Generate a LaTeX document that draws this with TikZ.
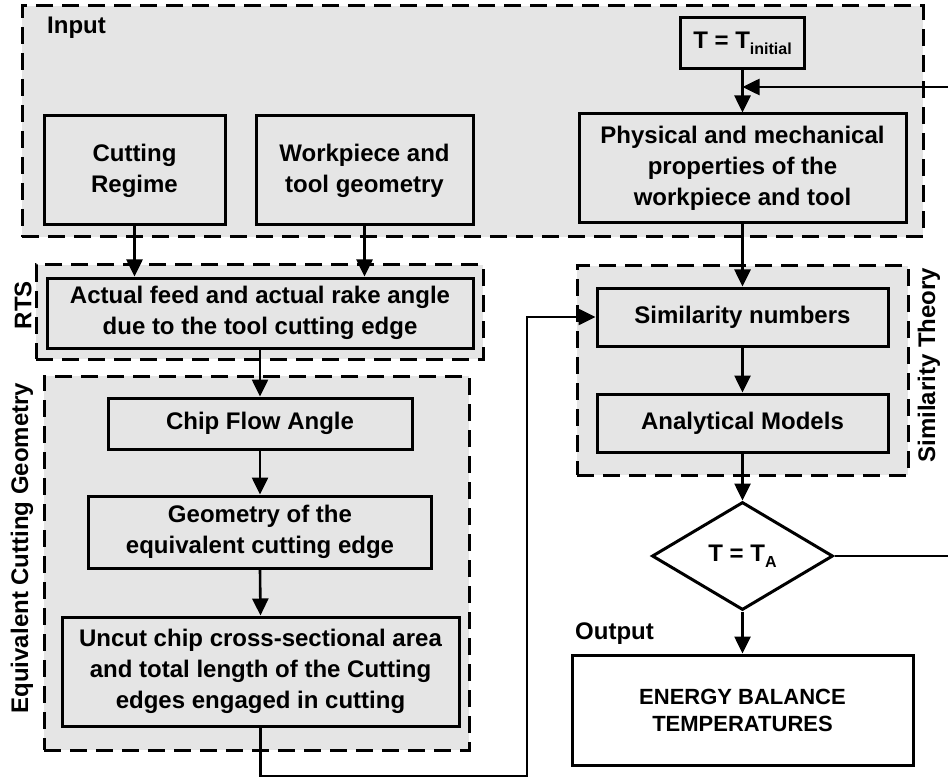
\documentclass[tikz,border=0pt]{standalone}
\usepackage{fontspec}
\setmainfont{Liberation Sans}
\usetikzlibrary{arrows.meta,shapes.geometric}
\definecolor{grpfill}{gray}{0.9}
\tikzset{
  grp/.style={draw, dash pattern=on 17pt off 9pt, line width=3pt, fill=grpfill, inner sep=0pt},
  boxn/.style={draw, line width=3pt, fill=grpfill, align=center, inner sep=0pt,
    font=\fontsize{24}{31}\selectfont\bfseries},
  wboxn/.style={boxn, fill=white},
  lbl/.style={inner sep=0pt, font=\fontsize{24}{28}\selectfont\bfseries},
  arr/.style={-{Triangle[length=17pt,width=16pt]}, line width=2.6pt},
  ln/.style={line width=2.6pt}
}
\newcommand{\mysub}[1]{{\fontsize{16}{16}\selectfont\raisebox{-6pt}{#1}}}
\begin{document}
\begin{tikzpicture}[x=1pt,y=-1pt]
\useasboundingbox (0,0) rectangle (948,778);
\clip (0,0) rectangle (948,778);
% groups
\node[grp, minimum width=901pt, minimum height=231pt] (ginput) at (472.5,121.5) {};
\node[grp, minimum width=447pt, minimum height=94pt] (grts) at (259.5,312) {};
\node[grp, minimum width=425pt, minimum height=374pt] (gecg) at (256.5,563) {};
\node[grp, minimum width=331pt, minimum height=209pt] (gsim) at (742.5,370.5) {};
% labels
\node[lbl, anchor=west] (linput) at (47,28) {Input};
\node[lbl, anchor=west] (loutput) at (575,634) {Output};
\node[lbl, rotate=90] (lrts) at (23,305) {RTS};
\node[lbl, rotate=90] (lecg) at (22,548) {Equivalent Cutting Geometry};
\node[lbl, rotate=90] (lsim) at (929,365) {Similarity Theory};
% boxes
\node[boxn, minimum width=181pt, minimum height=109pt] (cr) at (134.5,170.5) {Cutting\\Regime};
\node[boxn, minimum width=217pt, minimum height=109pt] (wg) at (364.5,170.5) {Workpiece and\\tool geometry};
\node[boxn, minimum width=124pt, minimum height=51pt] (tinit) at (742.5,43.5) {T = T\mysub{initial}};
\node[boxn, minimum width=327pt, minimum height=109pt] (phys) at (742.5,168.5) {Physical and mechanical\\properties of the\\workpiece and tool};
\node[boxn, minimum width=426pt, minimum height=70pt] (feed) at (260,313) {Actual feed and actual rake angle\\due to the tool cutting edge};
\node[boxn, minimum width=304pt, minimum height=51pt] (chip) at (260,423.5) {Chip Flow Angle};
\node[boxn, minimum width=343pt, minimum height=72pt] (geom) at (260,532) {Geometry of the\\equivalent cutting edge};
\node[boxn, minimum width=397pt, minimum height=109pt] (uncut) at (260.5,671.5) {Uncut chip cross-sectional area\\and total length of the Cutting\\edges engaged in cutting};
\node[boxn, minimum width=291pt, minimum height=58pt] (simn) at (742.5,317) {Similarity numbers};
\node[boxn, minimum width=291pt, minimum height=58pt] (anal) at (742.5,423) {Analytical Models};
\node[wboxn, diamond, aspect=1.67, minimum width=181pt, minimum height=108pt] (dia) at (742.5,556) {T = T\mysub{A}};
\node[wboxn, minimum width=341pt, minimum height=110pt, font=\fontsize{22}{27}\selectfont\bfseries] (out) at (742.5,710) {ENERGY BALANCE\\TEMPERATURES};
% connectors
\draw[arr] (cr.south) -- (cr.south |- feed.north);
\draw[arr] (wg.south) -- (wg.south |- feed.north);
\draw[arr] (feed.south) -- (chip.north);
\draw[arr] (chip.south) -- (geom.north);
\draw[arr] (geom.south) -- (uncut.north);
\draw[arr] (tinit.south) -- (phys.north);
\draw[arr] (phys.south) -- (simn.north);
\draw[arr] (simn.south) -- (anal.north);
\draw[arr] (anal.south) -- (dia.north);
\draw[arr] (dia.south) -- (out.north);
\coordinate (lowl) at (260.5,776);
\coordinate (lowr) at (527,776);
\draw[arr] (uncut.south) -- (lowl) -- (lowr) -- (lowr |- simn.west) -- (simn.west);
\coordinate (fbr) at (960,556);
\coordinate (fbin) at (742.5,87);
\draw[arr] (dia.east) -- (fbr) -- (fbr |- fbin) -- (fbin);
\end{tikzpicture}
\end{document}
